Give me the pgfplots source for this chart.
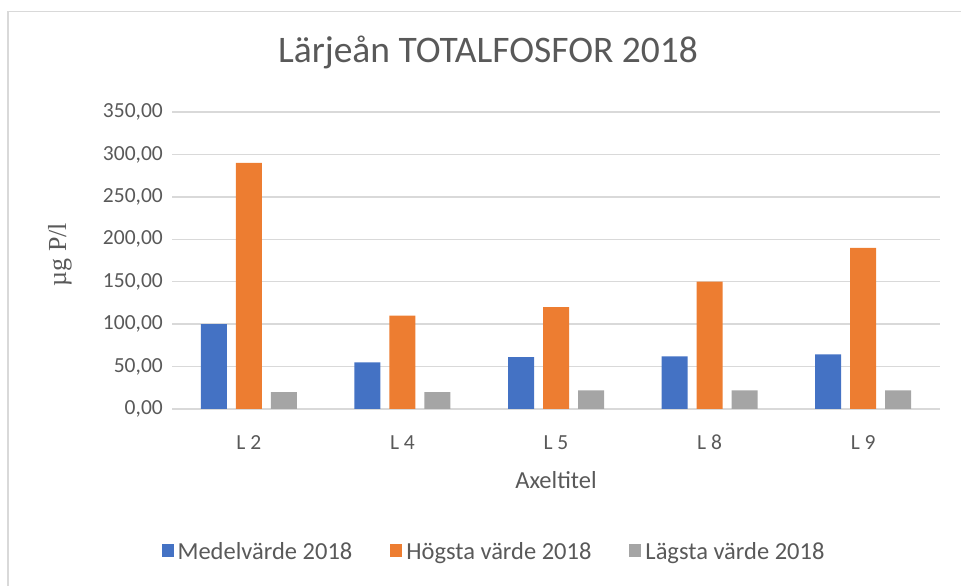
\documentclass[border=0pt]{standalone}
\usepackage{pgfplots}
\pgfplotsset{compat=1.18}
\usepackage{fontspec}
\setmainfont{Carlito}
\newfontfamily\timesfont{Liberation Serif}
\definecolor{cblue}{HTML}{4472C4}
\definecolor{corange}{HTML}{ED7D31}
\definecolor{cgray}{HTML}{A5A5A5}
\definecolor{cgrid}{HTML}{D9D9D9}
\definecolor{ctext}{HTML}{595959}
\begin{document}
\begin{tikzpicture}
\path[use as bounding box] (0,0) rectangle (961bp,586bp);
\draw[cgrid, line width=1.5bp] (8bp,0) -- (8bp,574.5bp) -- (961bp,574.5bp);
\begin{axis}[
  at={(172bp,177bp)}, anchor=south west,
  width=768bp, height=297bp, scale only axis,
  ybar=9bp, bar width=26bp,
  xmin=-0.5, xmax=4.5, ymin=0, ymax=350,
  xtick={0,1,2,3,4}, xticklabels={L 2, L 4, L 5, L 8, L 9},
  ytick={0,50,...,350},
  axis line style={draw=none},
  major tick length=0pt,
  ymajorgrids, grid style={cgrid, line width=1.5bp},
  axis on top=false,
  /pgf/number format/.cd, fixed, fixed zerofill, precision=2, use comma, 1000 sep={}, assume math mode=true,
  /pgfplots/.cd,
  tick label style={font=\fontsize{21.5bp}{25bp}\selectfont, text=ctext},
  yticklabel style={anchor=east, inner sep=0pt, xshift=-9bp},
  xticklabel style={anchor=base, inner sep=0pt, yshift=-40bp},
  xlabel={Axeltitel},
  xlabel style={at={(axis description cs:0.5,-0.266)}, anchor=base, font=\fontsize{24.5bp}{28bp}\selectfont, text=ctext, inner sep=0pt},
  ylabel={\timesfont µg P/l},
  ylabel style={at={(axis description cs:-0.1458,0.52)}, anchor=center, font=\fontsize{26bp}{30bp}\selectfont, text=ctext, inner sep=0pt},
  title={Lärjeån TOTALFOSFOR 2018},
  title style={at={(axis description cs:0.4115,1.145)}, anchor=base, font=\fontsize{37.5bp}{42bp}\selectfont, text=ctext, inner sep=0pt},
  legend columns=3,
  legend style={at={(axis description cs:0.418,-0.478)}, anchor=center, draw=none, fill=none,
    font=\fontsize{24.5bp}{28bp}\selectfont, text=ctext,
    inner sep=0pt, column sep=0pt,
    nodes={inner sep=0pt, anchor=west, text depth=0pt},
    /tikz/every even column/.append style={column sep=38bp}},
  legend image code/.code={\fill[#1, draw=none] (0bp,-6.5bp) rectangle (12bp,6.5bp); \path (16bp,0) ;},
]
\addplot[fill=cblue, draw=none] coordinates {(0,100) (1,55) (2,61) (3,62) (4,64.5)};
\addplot[fill=corange, draw=none] coordinates {(0,290) (1,110) (2,120) (3,150) (4,190)};
\addplot[fill=cgray, draw=none] coordinates {(0,20) (1,20) (2,22) (3,22) (4,22)};
\legend{Medelvärde 2018, Högsta värde 2018, Lägsta värde 2018}
\end{axis}
\end{tikzpicture}
\end{document}
